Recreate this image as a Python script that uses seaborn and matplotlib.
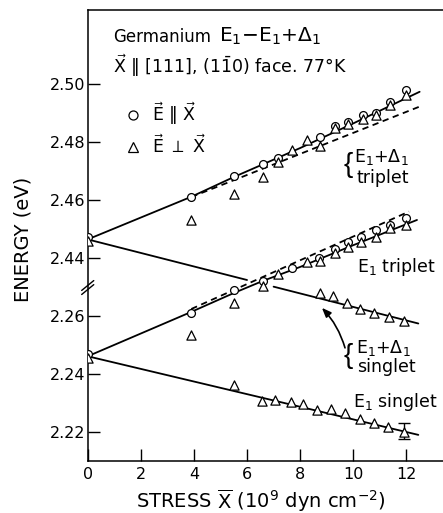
import numpy as np
import matplotlib
matplotlib.use("Agg")
import matplotlib.pyplot as plt
import matplotlib.transforms as mtransforms
from matplotlib.lines import Line2D
import seaborn as sns

# ---------------- data (real energies, eV) ----------------
# E1 bands are drawn on the lower part of the broken axis, shifted up by BREAK_SHIFT
BREAK_SHIFT = 0.16

# E1+Delta1 triplet, E || X (circles)
up_par_x = [0, 3.9, 5.5, 6.6, 7.15, 8.75, 9.3, 9.8, 10.35, 10.85, 11.4, 12.0]
up_par_y = [2.4474, 2.4612, 2.4685, 2.4725, 2.4745, 2.4817, 2.4856, 2.4869, 2.4894, 2.4900, 2.4940, 2.4980]
# E1+Delta1 triplet, E perp X (triangles)
up_perp_x = [0, 3.9, 5.5, 6.6, 7.15, 7.7, 8.25, 8.75, 9.3, 9.8, 10.35, 10.85, 11.4, 12.0]
up_perp_y = [2.4460, 2.4532, 2.4622, 2.4681, 2.4731, 2.4773, 2.4808, 2.4788, 2.4848, 2.4863, 2.4880, 2.4894, 2.4929, 2.4963]
# E1+Delta1 singlet, E perp X (triangles)
up_sing_x = [6.6, 8.75, 9.25, 9.75, 10.25, 10.8, 11.35, 11.9]
up_sing_y = [2.4305, 2.4279, 2.4270, 2.4245, 2.4224, 2.4212, 2.4199, 2.4185]

# E1 triplet, E || X (circles)
e1t_par_x = [0, 3.9, 5.5, 6.6, 7.7, 8.7, 9.3, 9.8, 10.3, 10.85, 11.4, 12.0]
e1t_par_y = [2.2470, 2.2612, 2.2691, 2.2723, 2.2766, 2.2800, 2.2831, 2.2857, 2.2874, 2.2898, 2.2915, 2.2938]
# E1 triplet, E perp X (triangles)
e1t_perp_x = [3.9, 5.5, 7.15, 8.25, 8.75, 9.3, 9.8, 10.3, 10.85, 11.4, 12.0]
e1t_perp_y = [2.2535, 2.2647, 2.2746, 2.2788, 2.2792, 2.2817, 2.2840, 2.2857, 2.2874, 2.2903, 2.2915]
# E1 singlet, E perp X (triangles)
e1s_x = [0, 5.5, 6.55, 7.05, 7.65, 8.1, 8.65, 9.15, 9.7, 10.25, 10.8, 11.3, 11.9]
e1s_y = [2.2455, 2.2363, 2.2309, 2.2311, 2.2305, 2.2298, 2.2277, 2.2279, 2.2266, 2.2245, 2.2231, 2.2219, 2.2202]
err_x = [11.9]
err_y = [2.2205]
err_e = [0.0027]

# fitted curves
fit_upt_x = [0, 3.9, 5.5, 8.0, 10.0, 12.5]
fit_upt_y = [2.4465, 2.4612, 2.4680, 2.4780, 2.4865, 2.4974]
lin_upt_x = [3.9, 12.5]
lin_upt_y = [2.4611, 2.4923]
fit_ups_x1 = [0, 6.0]
fit_ups_y1 = [2.4465, 2.4325]
fit_ups_x2 = [7.0, 12.45]
fit_ups_y2 = [2.4302, 2.4175]
fit_e1t_x = [0, 3.9, 5.5, 6.6, 8.0, 10.0, 12.4]
fit_e1t_y = [2.2462, 2.2615, 2.2680, 2.2722, 2.2770, 2.2845, 2.2932]
lin_e1t_x = [3.9, 12.1]
lin_e1t_y = [2.2625, 2.2961]
fit_e1s_x = [0, 12.45]
fit_e1s_y = [2.2462, 2.2191]

x_ticks = [0, 2, 4, 6, 8, 10, 12]
y_tick_vals = [2.22, 2.24, 2.26, 2.44, 2.46, 2.48, 2.50]
y_tick_labels = ["2.22", "2.24", "2.26", "2.44", "2.46", "2.48", "2.50"]

# ---------------- style ----------------
sns.set_style("ticks")
plt.rcParams['font.family'] = ['DejaVu Sans']
plt.rcParams['mathtext.fontset'] = 'dejavusans'
plt.rcParams['mathtext.default'] = 'regular'
for k in ['text.color', 'axes.labelcolor', 'xtick.color', 'ytick.color', 'axes.edgecolor']:
    plt.rcParams[k] = 'black'


def lo(v):
    return np.asarray(v, dtype=float) + BREAK_SHIFT


def hi(v):
    return np.asarray(v, dtype=float)


fig = plt.figure(figsize=(4.43, 5.13), dpi=100)
ax = fig.add_axes([0.198, 0.102, 0.802, 0.8785])

LW = 1.3
line_kw = dict(color='black', linewidth=LW, estimator=None, sort=False, ax=ax, legend=False)
dash = (0, (3.5, 2.5))
sns.lineplot(x=fit_upt_x, y=hi(fit_upt_y), **line_kw)
sns.lineplot(x=lin_upt_x, y=hi(lin_upt_y), linestyle=dash, **line_kw)
sns.lineplot(x=fit_ups_x1, y=hi(fit_ups_y1), **line_kw)
sns.lineplot(x=fit_ups_x2, y=hi(fit_ups_y2), **line_kw)
sns.lineplot(x=fit_e1t_x, y=lo(fit_e1t_y), **line_kw)
sns.lineplot(x=lin_e1t_x, y=lo(lin_e1t_y), linestyle=dash, **line_kw)
sns.lineplot(x=fit_e1s_x, y=lo(fit_e1s_y), **line_kw)

ax.errorbar(err_x, lo(err_y), yerr=err_e, fmt='none', ecolor='black',
            elinewidth=1.0, capsize=4.5, capthick=1.0, zorder=2.5)

circ_kw = dict(marker='o', s=32, color='white', edgecolor='black', linewidth=0.9,
               ax=ax, legend=False, zorder=3)
tri_kw = dict(marker='^', s=44, color='white', edgecolor='black', linewidth=0.9,
              ax=ax, legend=False, zorder=4)
sns.scatterplot(x=up_par_x, y=hi(up_par_y), **circ_kw)
sns.scatterplot(x=e1t_par_x, y=lo(e1t_par_y), **circ_kw)
sns.scatterplot(x=up_perp_x, y=hi(up_perp_y), **tri_kw)
sns.scatterplot(x=up_sing_x, y=hi(up_sing_y), **tri_kw)
sns.scatterplot(x=e1t_perp_x, y=lo(e1t_perp_y), **tri_kw)
sns.scatterplot(x=e1s_x, y=lo(e1s_y), **tri_kw)

# ---------------- axes ----------------
ax.set_xlim(0, 13.38)
ax.set_ylim(2.3702, 2.5256)
ax.set_xticks(x_ticks)
ax.set_xticklabels([str(t) for t in x_ticks])
ax.set_yticks([v + BREAK_SHIFT if v < 2.35 else v for v in y_tick_vals])
ax.set_yticklabels(y_tick_labels)
ax.tick_params(axis='both', direction='in', length=8.5, width=1.0, labelsize=11.5,
               color='black', labelcolor='black')
ax.tick_params(axis='y', pad=1.5)
ax.tick_params(axis='x', pad=4.5)
for s in ['left', 'bottom', 'top']:
    ax.spines[s].set_linewidth(1.1)
    ax.spines[s].set_color('black')
ax.spines['right'].set_visible(False)

ax.set_xlabel(r"STRESS $\overline{\mathrm{X}}$ (10$^{9}$ dyn cm$^{-2}$)", fontsize=14)
ax.xaxis.set_label_coords(0.488, -0.0894)
ax.xaxis.label.set_va('center')
ax.set_ylabel("ENERGY (eV)", fontsize=14)
ax.yaxis.set_label_coords(-0.182, 0.49)
ax.yaxis.label.set_va('center')

# axis-break marks
bt = mtransforms.blended_transform_factory(ax.transAxes, ax.transData)
for yb in (2.4306, 2.4292):
    ax.plot([-0.017, 0.017], [yb - 0.0017, yb + 0.0017], color='black', lw=1.0,
            transform=bt, clip_on=False, zorder=5)

# ---------------- text ----------------
ax.text(0.95, 2.5146, "Germanium", fontsize=12, va='baseline', ha='left')
ax.text(4.95, 2.5146, r"E$_1$$-$E$_1$+$\Delta_1$", fontsize=14.5, va='baseline', ha='left')
ax.text(0.95, 2.5039, r"$\vec{\mathrm{X}}$ $\Vert$ [111], (1$\bar{1}$0) face. 77°K",
        fontsize=12.5, va='baseline', ha='left')

handles = [Line2D([0], [0], marker='o', ls='none', mfc='white', mec='black', ms=6.5, mew=0.9),
           Line2D([0], [0], marker='^', ls='none', mfc='white', mec='black', ms=7.5, mew=0.9)]
labels = [r"$\vec{\mathrm{E}}$ $\Vert$ $\vec{\mathrm{X}}$", r"$\vec{\mathrm{E}}$ $\perp$ $\vec{\mathrm{X}}$"]
ax.legend(handles, labels, loc='upper left', bbox_to_anchor=(0.103, 0.80), frameon=False,
          fontsize=12.5, handlelength=1.0, handletextpad=0.6, borderpad=0, borderaxespad=0,
          labelspacing=0.45)

brace_kw = dict(fontsize=20, va='center', ha='right', family=['Liberation Sans', 'DejaVu Sans'])
ax.text(9.98, 2.4722, "{", **brace_kw)
ax.text(10.03, 2.4733, r"E$_1$+$\Delta_1$", fontsize=12.5, va='baseline', ha='left')
ax.text(10.14, 2.4660, "triplet", fontsize=12.5, va='baseline', ha='left')
ax.text(10.14, 2.4354, r"E$_1$ triplet", fontsize=12.5, va='baseline', ha='left')
ax.text(9.98, 2.4064, "{", **brace_kw)
ax.text(10.10, 2.4075, r"E$_1$+$\Delta_1$", fontsize=12.5, va='baseline', ha='left')
ax.text(10.14, 2.4008, "singlet", fontsize=12.5, va='baseline', ha='left')
ax.text(9.99, 2.3888, r"E$_1$ singlet", fontsize=12.5, va='baseline', ha='left')

ax.annotate('', xy=(8.82, 2.4229), xytext=(9.69, 2.4091),
            arrowprops=dict(arrowstyle='-|>,head_length=0.55,head_width=0.22',
                            connectionstyle='arc3,rad=0.12', color='black', lw=1.2,
                            shrinkA=0, shrinkB=0))

fig.savefig("out.png", dpi=100, facecolor='white')
